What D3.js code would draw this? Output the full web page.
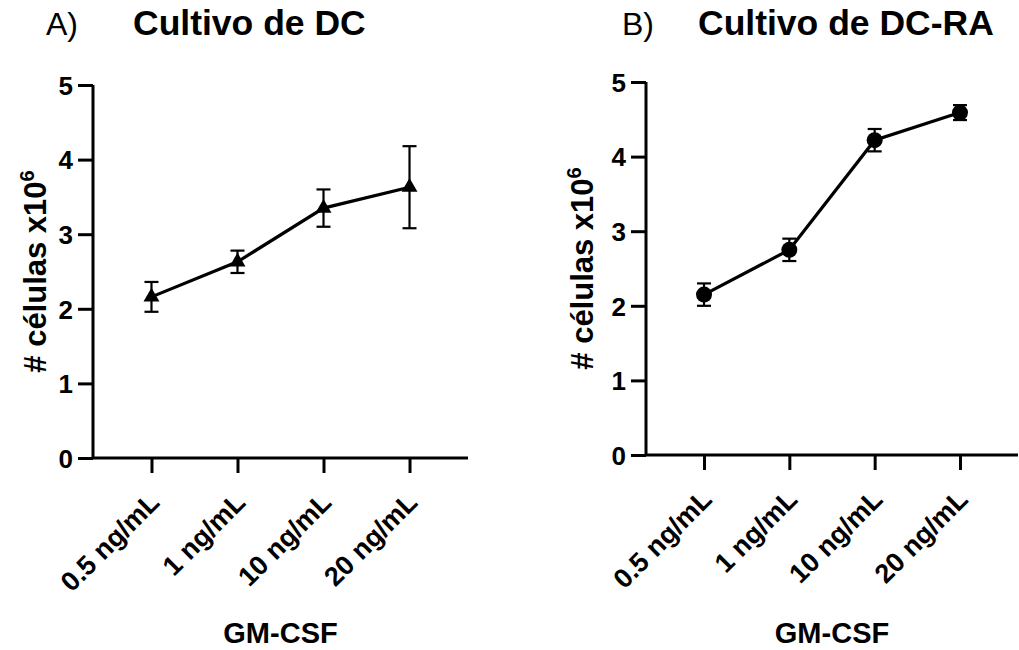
<!DOCTYPE html>
<html>
<head>
<meta charset="utf-8">
<script src="https://cdn.jsdelivr.net/npm/d3@7"></script>
<style>
  body { margin: 0; background: #fff; }
  svg { display: block; font-family: "Liberation Sans", Arial, sans-serif; }
</style>
</head>
<body>
<div id="chart"></div>
<script>
// GM-CSF doses (x categories)
const doses = ["0.5 ng/mL", "1 ng/mL", "10 ng/mL", "20 ng/mL"];
const yTicks = [0, 1, 2, 3, 4, 5];

// Cultivo de DC (mean, SEM) - cells x10^6
const dcMean = [2.16, 2.63, 3.35, 3.63];
const dcErr = [0.20, 0.15, 0.25, 0.55];

// Cultivo de DC-RA
const dcraMean = [2.15, 2.75, 4.22, 4.59];
const dcraErr = [0.15, 0.15, 0.15, 0.10];

const width = 1019;
const height = 650;

const svg = d3.select("#chart")
  .append("svg")
  .attr("width", width)
  .attr("height", height);

const panels = [
  { letter: "A)", title: "Cultivo de DC", mean: dcMean, err: dcErr, marker: "triangle",
    left: 93, right: 468, top: 85, bottom: 458, letterX: 46, titleX: 133, ylabelX: 46 },
  { letter: "B)", title: "Cultivo de DC-RA", mean: dcraMean, err: dcraErr, marker: "circle",
    left: 646, right: 1018, top: 82, bottom: 455, letterX: 622, titleX: 698, ylabelX: 593 }
];

panels.forEach((p) => {
  const g = svg.append("g");

  const x = d3.scalePoint()
    .domain(doses)
    .range([p.left, p.right])
    .padding(0.68);

  const y = d3.scaleLinear()
    .domain([0, 5])
    .range([p.bottom, p.top]);

  // titles
  g.append("text")
    .attr("x", p.letterX)
    .attr("y", 35)
    .attr("font-size", 32)
    .text(p.letter);

  g.append("text")
    .attr("x", p.titleX)
    .attr("y", 35)
    .attr("font-size", 35.5)
    .attr("font-weight", "bold")
    .text(p.title);

  // y axis
  const yAxis = g.append("g")
    .attr("transform", `translate(${p.left},0)`)
    .call(d3.axisLeft(y).tickValues(yTicks).tickSize(15).tickPadding(5).tickFormat(d3.format("d")));
  yAxis.select(".domain").attr("d", `M0,${p.top}V${p.bottom}`);

  // x axis
  const xAxis = g.append("g")
    .attr("transform", `translate(0,${p.bottom})`)
    .call(d3.axisBottom(x).tickSize(15).tickSizeOuter(0));
  xAxis.select(".domain").attr("d", `M${p.left},0H${p.right}`);

  [yAxis, xAxis].forEach((ax) => {
    ax.select(".domain").attr("stroke", "#000").attr("stroke-width", 3);
    ax.selectAll(".tick line").attr("stroke", "#000").attr("stroke-width", 3);
    ax.selectAll("text")
      .attr("fill", "#000")
      .attr("font-family", "Liberation Sans, Arial, sans-serif")
      .attr("font-weight", "bold");
  });
  yAxis.selectAll("text").attr("font-size", 26).attr("dy", "0.36em");

  xAxis.selectAll(".tick text")
    .attr("font-size", 27)
    .attr("text-anchor", "end")
    .attr("y", null)
    .attr("dy", null)
    .attr("transform", "translate(9,46) rotate(-45)");

  // axis titles
  g.append("text")
    .attr("x", (p.left + p.right) / 2)
    .attr("y", 643)
    .attr("text-anchor", "middle")
    .attr("font-size", 29)
    .attr("font-weight", "bold")
    .text("GM-CSF");

  const yl = g.append("text")
    .attr("transform", `translate(${p.ylabelX},${(p.top + p.bottom) / 2}) rotate(-90)`)
    .attr("text-anchor", "middle")
    .attr("font-size", 31)
    .attr("font-weight", "bold");
  yl.append("tspan").text("# células x10");
  yl.append("tspan").attr("font-size", 20).attr("dy", -12).text("6");

  // data
  const pts = doses.map((d, i) => ({ dose: d, mean: p.mean[i], err: p.err[i] }));

  // error bars
  const eb = g.append("g").attr("stroke", "#000").attr("stroke-width", 2.2);
  pts.forEach((d) => {
    const cx = x(d.dose);
    const y0 = y(d.mean - d.err);
    const y1 = y(d.mean + d.err);
    eb.append("line").attr("x1", cx).attr("x2", cx).attr("y1", y0).attr("y2", y1);
    eb.append("line").attr("x1", cx - 7).attr("x2", cx + 7).attr("y1", y0).attr("y2", y0);
    eb.append("line").attr("x1", cx - 7).attr("x2", cx + 7).attr("y1", y1).attr("y2", y1);
  });

  // line
  g.append("path")
    .datum(pts)
    .attr("fill", "none")
    .attr("stroke", "#000")
    .attr("stroke-width", 3.2)
    .attr("d", d3.line().x((d) => x(d.dose)).y((d) => y(d.mean)));

  // markers
  if (p.marker === "triangle") {
    g.selectAll(".mk")
      .data(pts)
      .join("path")
      .attr("transform", (d) => `translate(${x(d.dose)},${y(d.mean)})`)
      .attr("d", d3.symbol(d3.symbolTriangle, 110))
      .attr("fill", "#000");
  } else {
    g.selectAll(".mk")
      .data(pts)
      .join("circle")
      .attr("cx", (d) => x(d.dose))
      .attr("cy", (d) => y(d.mean))
      .attr("r", 8)
      .attr("fill", "#000");
  }
});
</script>
</body>
</html>
